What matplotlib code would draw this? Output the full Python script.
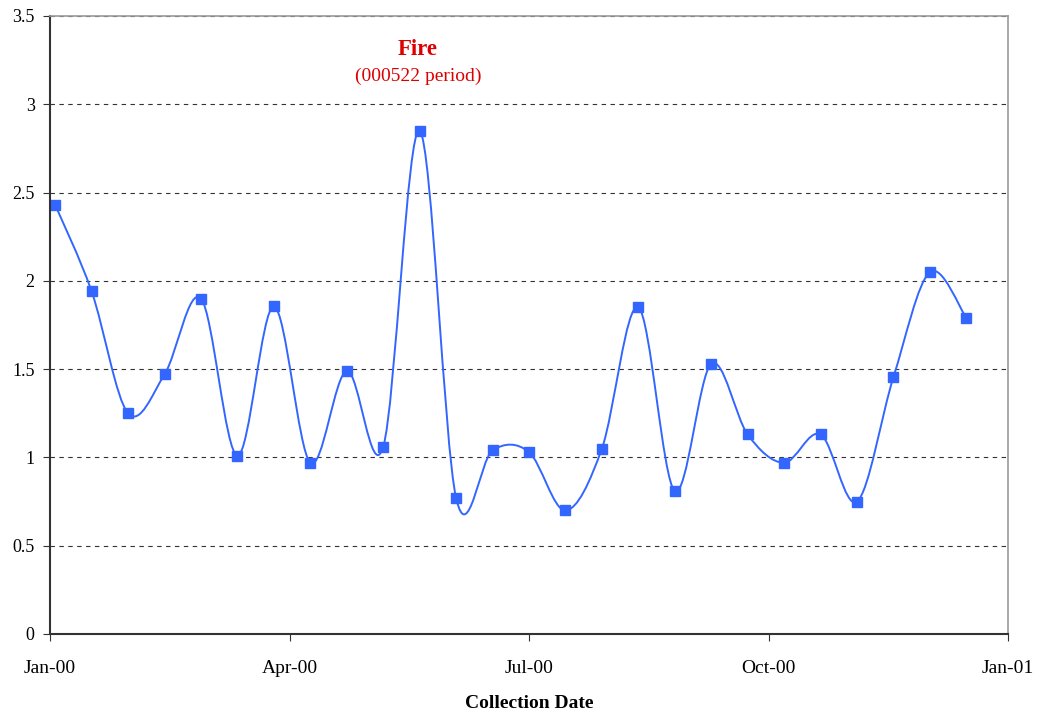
import numpy as np
import matplotlib.pyplot as plt
import matplotlib.dates as mdates
from matplotlib.path import Path
from matplotlib.patches import PathPatch
from datetime import date, timedelta

plt.rcParams['font.family'] = ['Liberation Serif', 'DejaVu Serif']

# Collection dates (every 14 days from 2000-01-03) and measured values
start = date(2000, 1, 3)
fechas = [start + timedelta(days=14 * i) for i in range(26)]
valores = [2.43, 1.94, 1.25, 1.47, 1.90, 1.01, 1.855, 0.97, 1.49, 1.06,
           2.85, 0.77, 1.04, 1.03, 0.70, 1.05, 1.85, 0.81, 1.53, 1.13,
           0.97, 1.13, 0.75, 1.455, 2.05, 1.79]
# axis: Jan 1 2000 + 368 days, major unit 92 days
eje_inicio = date(2000, 1, 1)
tick_fechas = [eje_inicio + timedelta(days=92 * k) for k in range(5)]

color = '#3366FF'

fig = plt.figure(figsize=(10.39, 7.17), dpi=100)
ax = fig.add_axes([50 / 1039, 1 - 634 / 717, 958 / 1039, 618 / 717])

# Smoothed line (Excel style: Bezier with Catmull-Rom control points)
x = mdates.date2num(fechas)
y = np.array(valores)
px = np.concatenate([[x[0]], x, [x[-1]]])
py = np.concatenate([[y[0]], y, [y[-1]]])
verts = [(x[0], y[0])]
codes = [Path.MOVETO]
for i in range(1, len(px) - 2):
    c1 = (px[i] + (px[i + 1] - px[i - 1]) / 6, py[i] + (py[i + 1] - py[i - 1]) / 6)
    c2 = (px[i + 1] - (px[i + 2] - px[i]) / 6, py[i + 1] - (py[i + 2] - py[i]) / 6)
    verts += [c1, c2, (px[i + 1], py[i + 1])]
    codes += [Path.CURVE4] * 3
ax.add_patch(PathPatch(Path(verts, codes), facecolor='none', edgecolor=color, lw=1.4))
ax.plot(fechas, valores, linestyle='none', marker='s', markersize=7, color=color)

ax.set_xlim(mdates.date2num(tick_fechas[0]), mdates.date2num(tick_fechas[-1]))
ax.set_ylim(0, 3.5)
ax.set_xticks(tick_fechas)
ax.xaxis.set_major_formatter(mdates.DateFormatter('%b-%y'))
ax.set_yticks(np.arange(0, 3.51, 0.5))
ax.set_yticklabels(['0', '0.5', '1', '1.5', '2', '2.5', '3', '3.5'])
ax.tick_params(length=5, color='#333333')
ax.tick_params(axis='x', labelsize=14, pad=14)
ax.tick_params(axis='y', labelsize=13, pad=6)
ax.grid(axis='y', linestyle=(0, (4, 4)), color='#333333', lw=0.8)
ax.set_axisbelow(True)
for s in ['left', 'bottom']:
    ax.spines[s].set_color('#333333')
    ax.spines[s].set_linewidth(1.5)
for s in ['top', 'right']:
    ax.spines[s].set_color('#999999')
    ax.spines[s].set_linewidth(1.2)

ax.set_xlabel('Collection Date', fontsize=14, fontweight='bold', labelpad=13)

xt = mdates.date2num(date(2000, 1, 1)) + (418 - 50) / 958 * 368
ax.text(xt, 3.31, 'Fire', color='#DD0000',
        fontsize=16.5, fontweight='bold', ha='center', va='center')
ax.text(xt, 3.158, '(000522 period)', color='#DD0000',
        fontsize=14, ha='center', va='center')

plt.savefig('out.png', dpi=100)
